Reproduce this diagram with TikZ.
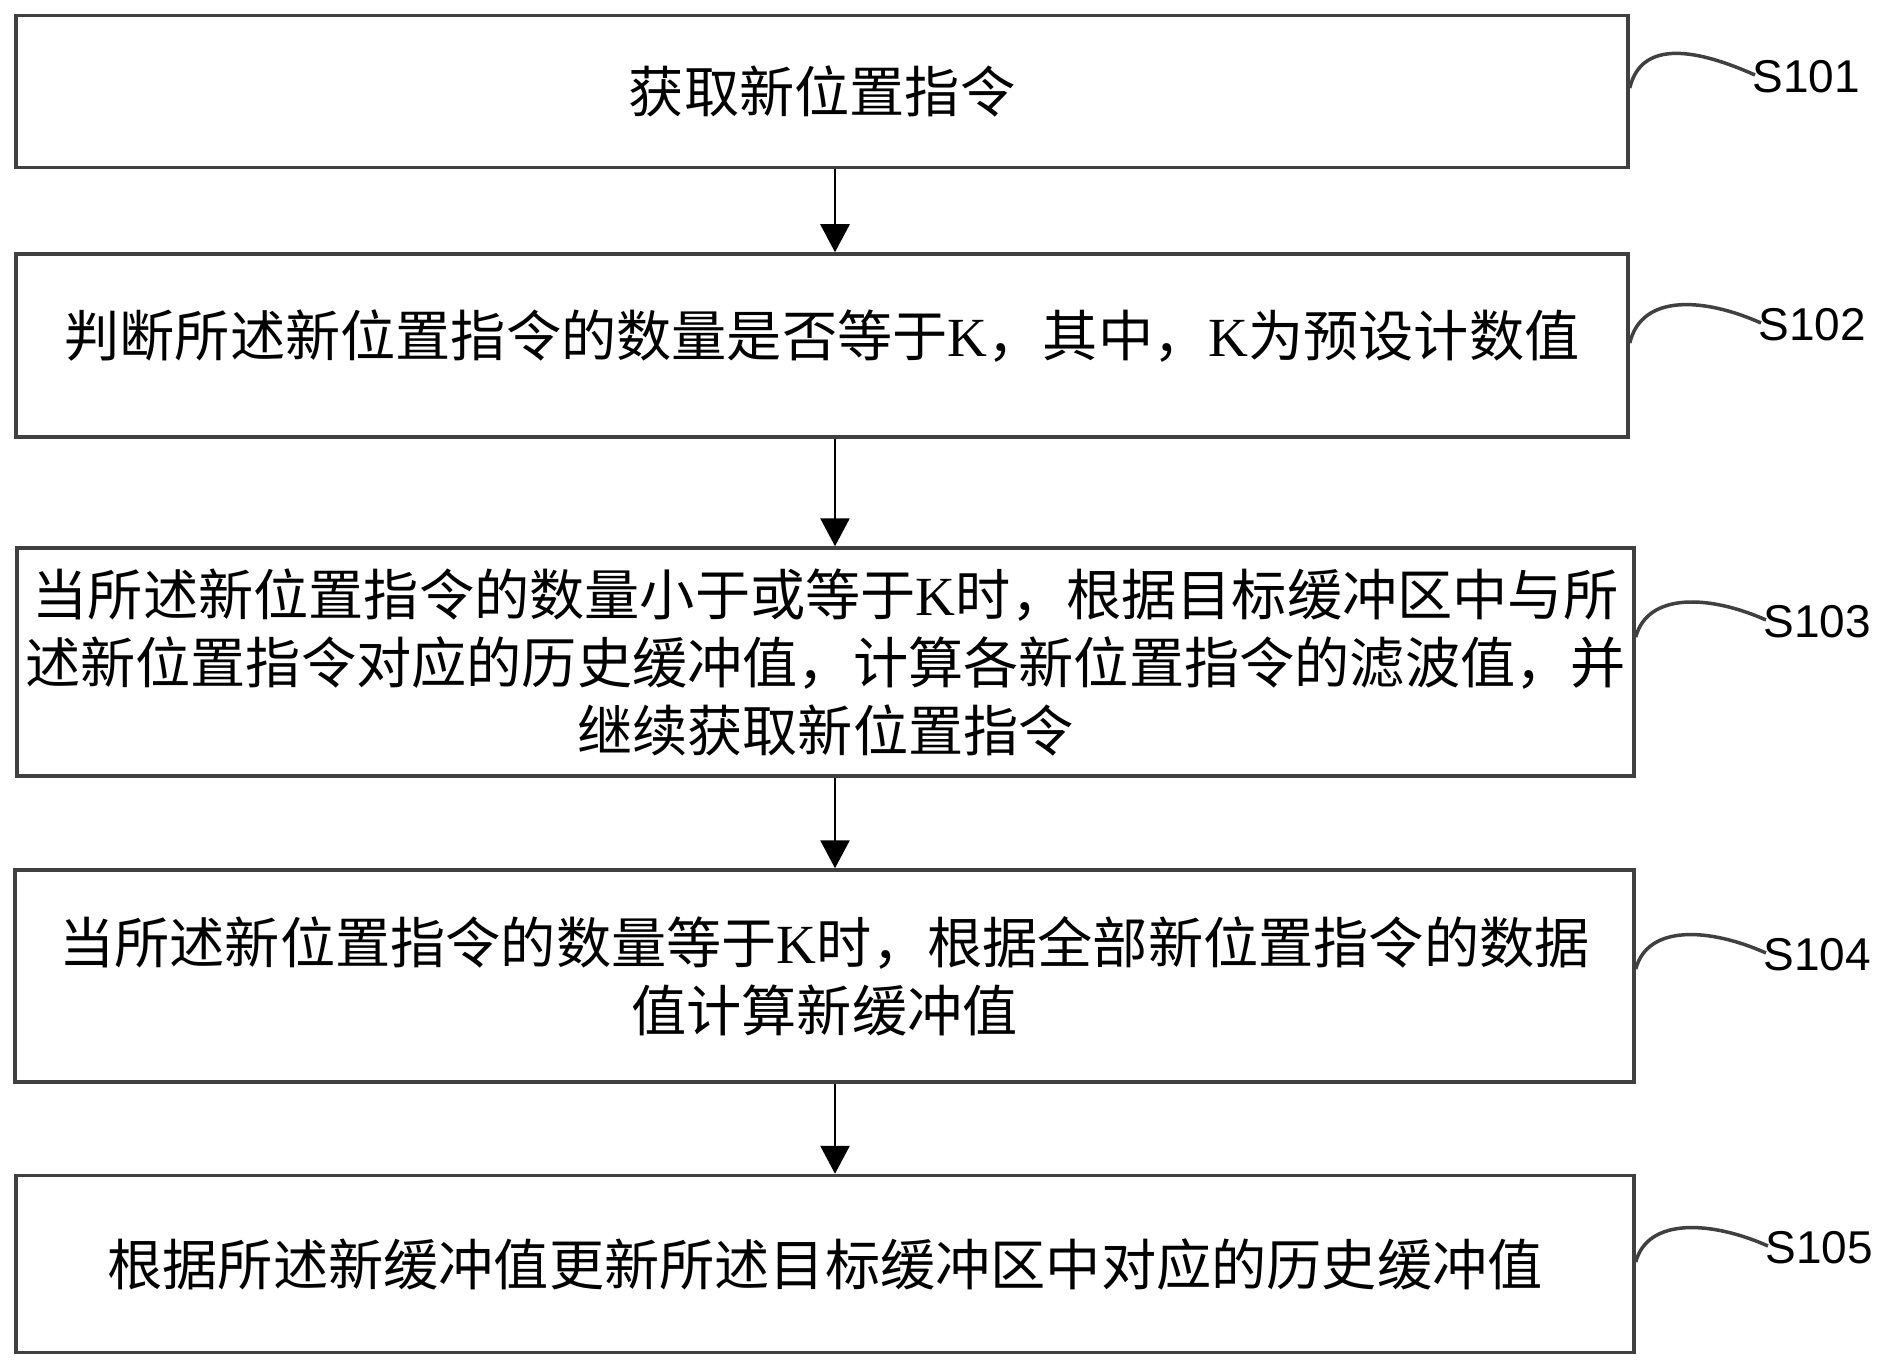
\documentclass[tikz,border=0pt]{standalone}
\usepackage{fontspec}
\newfontfamily\cjk{Noto Sans CJK SC}
\newfontfamily\lat{Liberation Serif}
\newfontfamily\lblfont{Liberation Sans}
\usetikzlibrary{arrows.meta,calc}
\definecolor{edgegray}{HTML}{404040}
\begin{document}
\begin{tikzpicture}[x=0.5pt,y=-0.5pt,
  stepbox/.style={draw=edgegray,line width=1.75pt,rectangle,inner sep=0pt,align=center,
    font=\cjk\fontsize{27.6}{34}\selectfont,text=black},
  arr/.style={line width=1.4pt,black,-{Triangle[length=14pt,width=14.5pt]}},
  tagcurve/.style={draw=edgegray,line width=1.75pt},
  tag/.style={font=\lblfont\fontsize{23}{23}\selectfont,inner sep=0pt,anchor=west,text=black}]
\useasboundingbox (0,0) rectangle (1879,1369);
\fill[white] (0,0) rectangle (1879,1369);
% boxes
\node[stepbox,minimum width=806pt,minimum height=76pt] (b1) at (822,91.5) {获取新位置指令};
\node[stepbox,minimum width=806pt,minimum height=91.5pt,text height=24.3pt,text depth=13.3pt] (b2) at (822,345.5)
  {判断所述新位置指令的数量是否等于{\lat K}，其中，{\lat K}为预设计数值};
\node[stepbox,minimum width=808.5pt,minimum height=114pt] (b3) at (825.5,662)
  {当所述新位置指令的数量小于或等于{\lat K}时，根据目标缓冲区中与所\\
   述新位置指令对应的历史缓冲值，计算各新位置指令的滤波值，并\\
   继续获取新位置指令};
\node[stepbox,minimum width=809.5pt,minimum height=106pt] (b4) at (824.5,976)
  {当所述新位置指令的数量等于{\lat K}时，根据全部新位置指令的数据\\
   值计算新缓冲值};
\node[stepbox,minimum width=809pt,minimum height=88.5pt] (b5) at (825,1264)
  {根据所述新缓冲值更新所述目标缓冲区中对应的历史缓冲值};
% arrows
\coordinate (ax) at (835,0);
\draw[arr] (ax |- b1.south) -- (ax |- b2.north);
\draw[arr] (ax |- b2.south) -- (ax |- b3.north);
\draw[arr] (ax |- b3.south) -- (ax |- b4.north);
\draw[arr] (ax |- b4.south) -- (ax |- b5.north);
% labels
\node[tag] (l1) at (1752,77) {S101};
\node[tag] (l2) at (1758,325) {S102};
\node[tag] (l3) at (1763,622) {S103};
\node[tag] (l4) at (1763,955) {S104};
\node[tag] (l5) at (1765,1248) {S105};
\draw[tagcurve] ($(b1.east)+(0,-3.5)$) .. controls +(12,-50) and +(-56,-25) .. ($(l1.west)+(3,-2)$);
\draw[tagcurve] ($(b2.east)+(0,-2.5)$) .. controls +(12,-50) and +(-56,-25) .. ($(l2.west)+(3,-2)$);
\draw[tagcurve] ($(b3.east)+(0,-25)$) .. controls +(12,-45) and +(-56,-25) .. ($(l3.west)+(3,-2)$);
\draw[tagcurve] ($(b4.east)+(0,-7)$) .. controls +(12,-45) and +(-56,-25) .. ($(l4.west)+(3,-2)$);
\draw[tagcurve] ($(b5.east)+(0,-2)$) .. controls +(12,-45) and +(-56,-25) .. ($(l5.west)+(3,-2)$);
\end{tikzpicture}
\end{document}
